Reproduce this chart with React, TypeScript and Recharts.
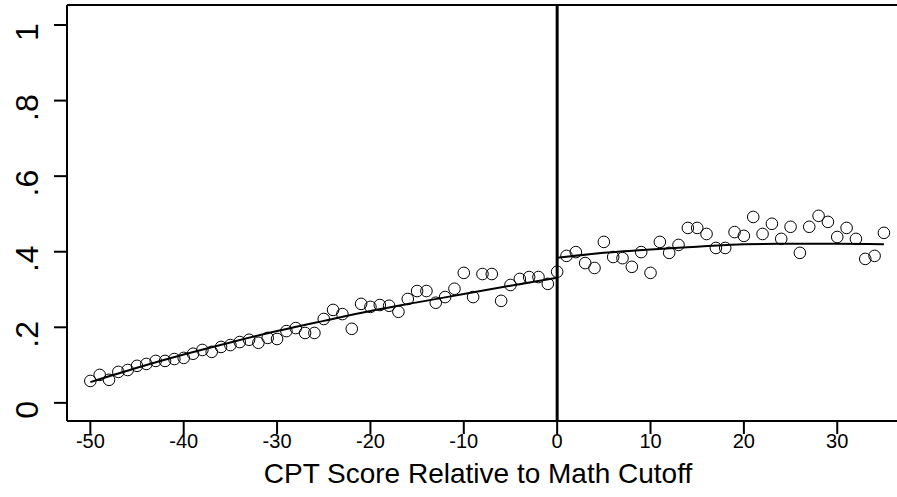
import { ComposedChart, Scatter, Line, XAxis, YAxis, ReferenceLine, Label } from "recharts"

// binned means, score relative to cutoff
const binX = [
  -50, -49, -48, -47, -46, -45, -44, -43, -42, -41, -40, -39, -38, -37, -36, -35, -34, -33, -32, -31,
  -30, -29, -28, -27, -26, -25, -24, -23, -22, -21, -20, -19, -18, -17, -16, -15, -14, -13, -12, -11,
  -10, -9, -8, -7, -6, -5, -4, -3, -2, -1, 0,
  1, 2, 3, 4, 5, 6, 7, 8, 9, 10, 11, 12, 13, 14, 15, 16, 17, 18, 19, 20,
  21, 22, 23, 24, 25, 26, 27, 28, 29, 30, 31, 32, 33, 34, 35,
]
const binY = [
  0.058, 0.074, 0.061, 0.082, 0.087, 0.098, 0.103, 0.111, 0.111, 0.116, 0.119, 0.13, 0.14, 0.135, 0.148, 0.153, 0.161, 0.167, 0.159, 0.172,
  0.169, 0.19, 0.198, 0.185, 0.185, 0.222, 0.246, 0.235, 0.196, 0.262, 0.254, 0.259, 0.257, 0.241, 0.275, 0.296, 0.296, 0.265, 0.28, 0.302,
  0.344, 0.28, 0.341, 0.341, 0.27, 0.312, 0.328, 0.333, 0.333, 0.315, 0.347,
  0.389, 0.399, 0.37, 0.357, 0.426, 0.386, 0.383, 0.36, 0.399, 0.344, 0.426, 0.397, 0.418, 0.463, 0.463, 0.447, 0.41, 0.41, 0.452, 0.442,
  0.492, 0.447, 0.474, 0.434, 0.466, 0.397, 0.466, 0.495, 0.479, 0.439, 0.463, 0.434, 0.381, 0.389, 0.45,
]

// fitted curves on each side of the cutoff
const fitLeftX = [-50, -45, -40, -35, -30, -25, -20, -15, -10, -5, 0]
const fitLeftY = [0.055, 0.093, 0.128, 0.16, 0.19, 0.217, 0.243, 0.266, 0.288, 0.31, 0.331]
const fitRightX = [0, 5, 10, 15, 20, 25, 30, 35]
const fitRightY = [0.384, 0.397, 0.406, 0.413, 0.42, 0.421, 0.421, 0.42]

const xTicks = [-50, -40, -30, -20, -10, 0, 10, 20, 30]
const yTicks = [0, 0.2, 0.4, 0.6, 0.8, 1]
const yTickLabels = ["0", ".2", ".4", ".6", ".8", "1"]

const points = binX.map((x, i) => ({ x, y: binY[i] }))
const leftFit = fitLeftX.map((x, i) => ({ x, y: fitLeftY[i] }))
const rightFit = fitRightX.map((x, i) => ({ x, y: fitRightY[i] }))

const FONT = "Arial, 'Liberation Sans', Helvetica, sans-serif"
const Y_MAX = 1.053

function OpenCircle(props: any) {
  return <circle cx={props.cx} cy={props.cy} r={5.8} fill="none" stroke="#000" strokeWidth={1} />
}

function YTick(props: any) {
  const idx = yTicks.indexOf(props.payload.value)
  return (
    <text
      transform={`translate(38, ${props.y + 7}) rotate(-90)`}
      textAnchor="middle"
      fontSize={32}
      fontFamily={FONT}
      fill="#000"
    >
      {idx >= 0 ? yTickLabels[idx] : props.payload.value}
    </text>
  )
}

function XTick(props: any) {
  return (
    <text x={props.x} y={448} textAnchor="middle" fontSize={20} fontFamily={FONT} fill="#000">
      {props.payload.value}
    </text>
  )
}

export default function App() {
  return (
    <div style={{ position: "absolute", left: 0, top: 0, width: 897, height: 497, overflow: "hidden", background: "#fff" }}>
      <ComposedChart width={897} height={497} margin={{ top: 5, right: 0, bottom: 0, left: 0 }}>
        <XAxis
          type="number"
          dataKey="x"
          domain={[-52.5, 36.4]}
          ticks={xTicks}
          interval={0}
          height={76}
          tickSize={13}
          tick={<XTick />}
          axisLine={{ stroke: "#000", strokeWidth: 2 }}
          tickLine={{ stroke: "#000", strokeWidth: 2 }}
          allowDataOverflow
        >
          <Label
            content={() => (
              <text x={478} y={483} textAnchor="middle" fontSize={28} fontFamily={FONT} fill="#000">
                CPT Score Relative to Math Cutoff
              </text>
            )}
          />
        </XAxis>
        <YAxis
          type="number"
          dataKey="y"
          domain={[-0.048, Y_MAX]}
          ticks={yTicks}
          interval={0}
          width={67}
          tickSize={13}
          tick={<YTick />}
          axisLine={{ stroke: "#000", strokeWidth: 2 }}
          tickLine={{ stroke: "#000", strokeWidth: 2 }}
          allowDataOverflow
        />
        <ReferenceLine y={Y_MAX} stroke="#000" strokeWidth={2} />
        <ReferenceLine x={0} stroke="#000" strokeWidth={3} />
        <Scatter data={points} dataKey="y" shape={<OpenCircle />} isAnimationActive={false} />
        <Line data={leftFit} dataKey="y" type="monotone" stroke="#000" strokeWidth={2} dot={false} isAnimationActive={false} />
        <Line data={rightFit} dataKey="y" type="monotone" stroke="#000" strokeWidth={2} dot={false} isAnimationActive={false} />
      </ComposedChart>
    </div>
  )
}
